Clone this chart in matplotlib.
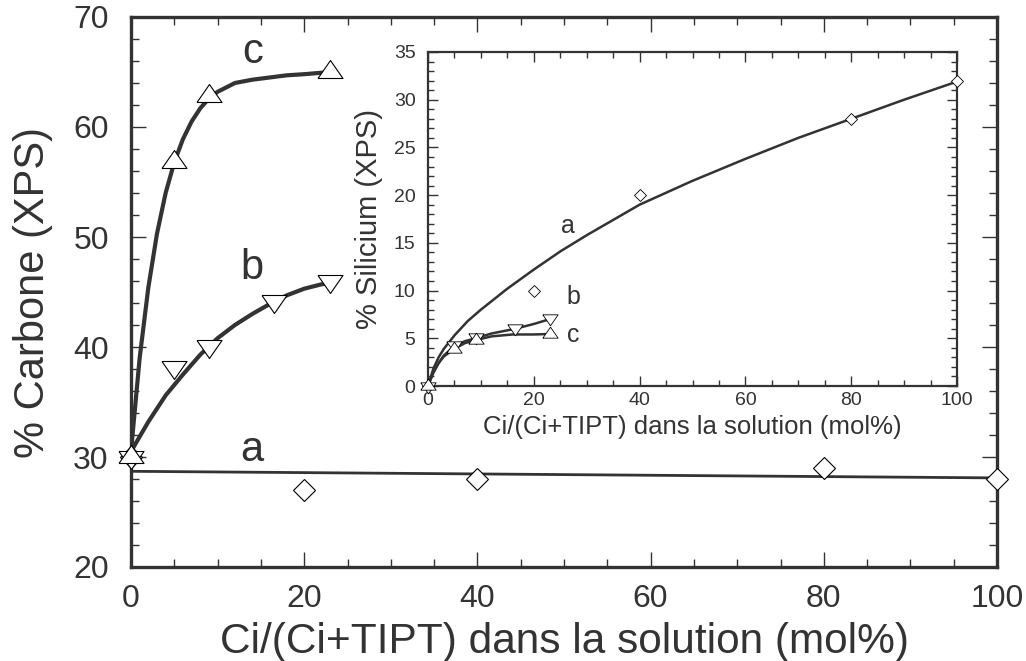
import numpy as np
import matplotlib
matplotlib.use('Agg')
import matplotlib.pyplot as plt
from matplotlib.ticker import MultipleLocator

plt.rcParams['font.family'] = ['Liberation Sans', 'DejaVu Sans']
ink = '#333333'

# Main plot: % carbone, measured points
a_x = [0, 20, 40, 80, 100]
a_y = [30, 27, 28, 29, 28]
b_x = [0, 5, 9, 16.5, 23]
b_y = [30, 38.2, 40.1, 44.2, 46]
c_x = [0, 5, 9, 23]
c_y = [30, 56.8, 62.8, 65]

# Main plot: trend lines
a_fit_x = [0, 100]
a_fit_y = [28.7, 28.1]
b_fit_x = [0, 2, 4, 6, 8, 10, 12, 14, 16, 18, 20, 22, 23]
b_fit_y = [30.5, 33.2, 35.6, 37.5, 39.3, 40.8, 42.0, 43.0, 43.9, 44.7, 45.3, 45.7, 45.8]
c_fit_x = [0, 1, 2, 3, 4, 5, 6, 7, 8, 9, 10, 12, 14, 16, 18, 20, 23]
c_fit_y = [30.5, 39.0, 45.4, 50.3, 54.0, 56.8, 58.9, 60.5, 61.7, 62.6, 63.2, 64.0, 64.3, 64.5, 64.7, 64.8, 65.0]

# Inset: % silicium
ia_x = [0, 20, 40, 80, 100]
ia_y = [0, 10, 20, 28, 32]
ib_x = [0, 5, 9, 16.5, 23]
ib_y = [0, 4.3, 5.1, 6.1, 7.1]
ic_x = [0, 5, 9, 23]
ic_y = [0, 3.9, 4.8, 5.45]

ia_fit_x = [0, 1, 2, 3, 5, 7.5, 10, 15, 20, 25, 30, 40, 50, 60, 70, 80, 90, 100]
ia_fit_y = [0, 1.8, 3.0, 3.9, 5.3, 6.8, 8.0, 10.2, 12.2, 14.1, 15.8, 19.0, 21.5, 23.8, 26.0, 28.0, 30.0, 31.9]
ib_fit_x = [0, 1, 2, 3, 5, 7, 9, 12, 16.5, 20, 23]
ib_fit_y = [0, 1.4, 2.4, 3.2, 4.2, 4.7, 5.0, 5.5, 6.0, 6.5, 7.0]
ic_fit_x = [0, 1, 2, 3, 5, 7, 9, 12, 16, 20, 23]
ic_fit_y = [0, 1.4, 2.4, 3.1, 3.9, 4.5, 4.8, 5.2, 5.4, 5.4, 5.45]

# flattened triangles like the original
tri_up = [(-1, -0.48), (1, -0.48), (0, 0.96), (-1, -0.48)]
tri_dn = [(x, -y) for x, y in tri_up]

fig = plt.figure(figsize=(10.26, 6.61), dpi=100)
W, H = 1026, 661

def box(l, t, r, b):
    return [l / W, 1 - b / H, (r - l) / W, (b - t) / H]

def style(ax, lw, major_len, minor_len, size):
    for s in ax.spines.values():
        s.set_linewidth(lw)
        s.set_color(ink)
    ax.tick_params(which='both', direction='in', top=True, right=True,
                   colors=ink, width=1.0, labelsize=size, labelcolor=ink)
    ax.tick_params(which='major', length=major_len)
    ax.tick_params(which='minor', length=minor_len)

# ---- main axes
ax = fig.add_axes(box(131, 17, 997, 567))
ax.plot(a_fit_x, a_fit_y, color=ink, lw=2.0, zorder=2)
ax.plot(b_fit_x, b_fit_y, color=ink, lw=3.0, zorder=2)
ax.plot(c_fit_x, c_fit_y, color=ink, lw=3.0, zorder=2)
mk = dict(ls='none', mfc='white', mec='black', mew=0.8, zorder=3, clip_on=False)
ax.plot(a_x, a_y, marker='D', ms=11.5, **mk)
ax.plot(b_x, b_y, marker=tri_dn, ms=18, **mk)
ax.plot(c_x, c_y, marker=tri_up, ms=18, **mk)
ax.set_xlim(0, 100)
ax.set_ylim(20, 70)
ax.xaxis.set_major_locator(MultipleLocator(20))
ax.xaxis.set_minor_locator(MultipleLocator(5))
ax.yaxis.set_major_locator(MultipleLocator(10))
ax.yaxis.set_minor_locator(MultipleLocator(2))
style(ax, 2.4, 11, 6, 23)
ax.tick_params(axis='x', pad=12)
ax.tick_params(axis='y', pad=16)
ax.set_xlabel('Ci/(Ci+TIPT) dans la solution (mol%)', fontsize=30.5, color=ink)
ax.set_ylabel('% Carbone (XPS)', fontsize=30, color=ink)
ax.xaxis.set_label_coords(0.5, -0.100)
ax.yaxis.set_label_coords(-0.090, 0.5)
for t, x, y in [('a', 14, 30.6), ('b', 14, 47.2), ('c', 14, 66.8)]:
    ax.text(x, y, t, fontsize=30, color=ink, ha='center', va='center')

# ---- inset
ins = fig.add_axes(box(428, 52, 957, 386))
ins.patch.set_alpha(0)
ins.plot(ia_fit_x, ia_fit_y, color=ink, lw=1.8, zorder=2)
ins.plot(ib_fit_x, ib_fit_y, color=ink, lw=1.8, zorder=2)
ins.plot(ic_fit_x, ic_fit_y, color=ink, lw=1.8, zorder=2)
mk2 = dict(ls='none', mfc='white', mec='black', mew=0.6, zorder=3, clip_on=False)
ins.plot(ia_x, ia_y, marker='D', ms=6.5, **mk2)
ins.plot(ib_x, ib_y, marker=tri_dn, ms=11, **mk2)
ins.plot(ic_x, ic_y, marker=tri_up, ms=11, **mk2)
ins.set_xlim(0, 100)
ins.set_ylim(0, 35)
ins.xaxis.set_major_locator(MultipleLocator(20))
ins.xaxis.set_minor_locator(MultipleLocator(5))
ins.yaxis.set_major_locator(MultipleLocator(5))
ins.yaxis.set_minor_locator(MultipleLocator(1))
style(ins, 1.6, 7, 4, 14)
ins.tick_params(axis='x', pad=4)
ins.tick_params(axis='y', pad=9)
ins.set_xlabel('Ci/(Ci+TIPT) dans la solution (mol%)', fontsize=18.5, color=ink)
ins.set_ylabel('% Silicium (XPS)', fontsize=21, color=ink)
ins.xaxis.set_label_coords(0.5, -0.088)
ins.yaxis.set_label_coords(-0.085, 0.5)
for t, x, y in [('a', 26.5, 16.8), ('b', 27.5, 9.3), ('c', 27.5, 5.3)]:
    ins.text(x, y, t, fontsize=18, color=ink, ha='center', va='center')

fig.savefig('out.png', dpi=100)
